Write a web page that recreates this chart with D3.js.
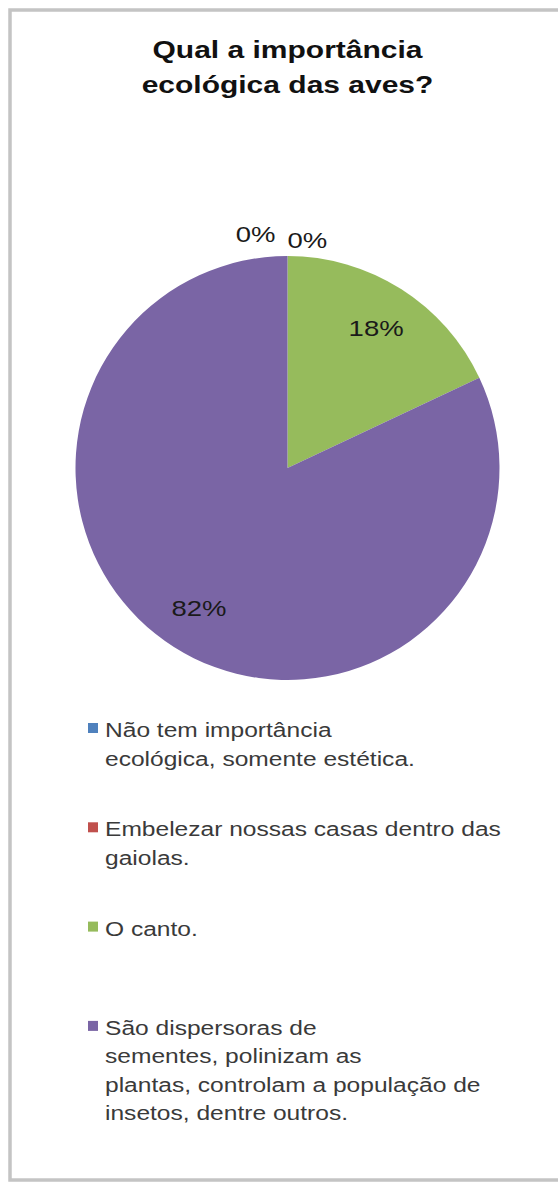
<!DOCTYPE html>
<html>
<head>
<meta charset="utf-8">
<script src="https://cdn.jsdelivr.net/npm/d3@7"></script>
<style>
  html, body { margin: 0; padding: 0; background: #ffffff; }
  svg { display: block; }
</style>
</head>
<body>
<div id="chart"></div>
<script>
// Survey answers: "Qual a importância ecológica das aves?"
const titleLines = ["Qual a importância", "ecológica das aves?"];
const categories = [
  "Não tem importância ecológica, somente estética.",
  "Embelezar nossas casas dentro das gaiolas.",
  "O canto.",
  "São dispersoras de sementes, polinizam as plantas, controlam a população de insetos, dentre outros."
];
// legend text as wrapped in the chart legend
const legendLines = [
  ["Não tem importância", "ecológica, somente estética."],
  ["Embelezar nossas casas dentro das", "gaiolas."],
  ["O canto."],
  ["São dispersoras de", "sementes, polinizam as", "plantas, controlam a população de", "insetos, dentre outros."]
];
const values = [0, 0, 18, 82];   // percent of answers
const colors = ["#4f81bd", "#c0504d", "#96bb5c", "#7a65a5"];

const W = 558, H = 1183;
const svg = d3.select("#chart").append("svg")
  .attr("width", W).attr("height", H);

// chart frame (runs off the right edge)
svg.append("rect")
  .attr("x", 10).attr("y", 10)
  .attr("width", W + 20).attr("height", 1170)
  .attr("fill", "none")
  .attr("stroke", "#c4c4c4")
  .attr("stroke-width", 3.5);

const font = "'Liberation Sans', Arial, sans-serif";
const sx = 1.25;   // wide glyph rendering of the chart text

// title
const cx = 287.5;
titleLines.forEach((t, i) => {
  svg.append("g")
    .attr("transform", `translate(${cx},${58 + i * 35}) scale(${sx},1)`)
    .append("text")
    .attr("text-anchor", "middle")
    .attr("font-family", font)
    .attr("font-weight", "bold")
    .attr("font-size", 24)
    .attr("fill", "#111")
    .text(t);
});

// pie
const cy = 468, r = 212;
const data = categories.map((c, i) => ({ name: c, value: values[i], color: colors[i] }));
const pie = d3.pie().sort(null).value(d => d.value);
const arcs = pie(data);
const arc = d3.arc().innerRadius(0).outerRadius(r);
const labelArc = d3.arc().innerRadius(r * 0.78).outerRadius(r * 0.78);

const g = svg.append("g").attr("transform", `translate(${cx},${cy})`);
g.selectAll("path.slice")
  .data(arcs.filter(d => d.value > 0))
  .join("path")
  .attr("class", "slice")
  .attr("d", arc)
  .attr("fill", d => d.data.color);

// percentage labels
const pct = d => `${d3.format(".0f")(d.value)}%`;
const inside = arcs.filter(d => d.value > 0);
inside.forEach(d => {
  const [lx, ly] = labelArc.centroid(d);
  g.append("g")
    .attr("transform", `translate(${lx},${ly + 8}) scale(${sx},1)`)
    .append("text")
    .attr("text-anchor", "middle")
    .attr("font-family", font)
    .attr("font-size", 22)
    .attr("fill", "#1a1a1a")
    .text(pct(d));
});

// zero slices share the top edge: labels sit outside, nudged apart
const zeros = arcs.filter(d => d.value === 0);
zeros.forEach((d, i) => {
  const a = d.startAngle;
  const ox = (r + 14) * Math.sin(a), oy = -(r + 14) * Math.cos(a);
  const side = i === 0 ? -1 : 1;
  g.append("g")
    .attr("transform", `translate(${ox + (side < 0 ? -12 : 0)},${oy + i * 6}) scale(${sx},1)`)
    .append("text")
    .attr("text-anchor", side < 0 ? "end" : "start")
    .attr("font-family", font)
    .attr("font-size", 22)
    .attr("fill", "#1a1a1a")
    .text(pct(d));
});

// legend
const lgX = 88, lgY = 737, itemStep = 99.3, lineStep = 28.5;
const legend = svg.append("g");
data.forEach((d, i) => {
  const y0 = lgY + i * itemStep;
  legend.append("rect")
    .attr("x", lgX).attr("y", y0 - 14)
    .attr("width", 10).attr("height", 10)
    .attr("fill", d.color);
  legendLines[i].forEach((line, j) => {
    legend.append("g")
      .attr("transform", `translate(${lgX + 17},${y0 + j * lineStep}) scale(1.17,1)`)
      .append("text")
      .attr("font-family", font)
      .attr("font-size", 21)
      .attr("fill", "#3a3a3a")
      .text(line);
  });
});
</script>
</body>
</html>
